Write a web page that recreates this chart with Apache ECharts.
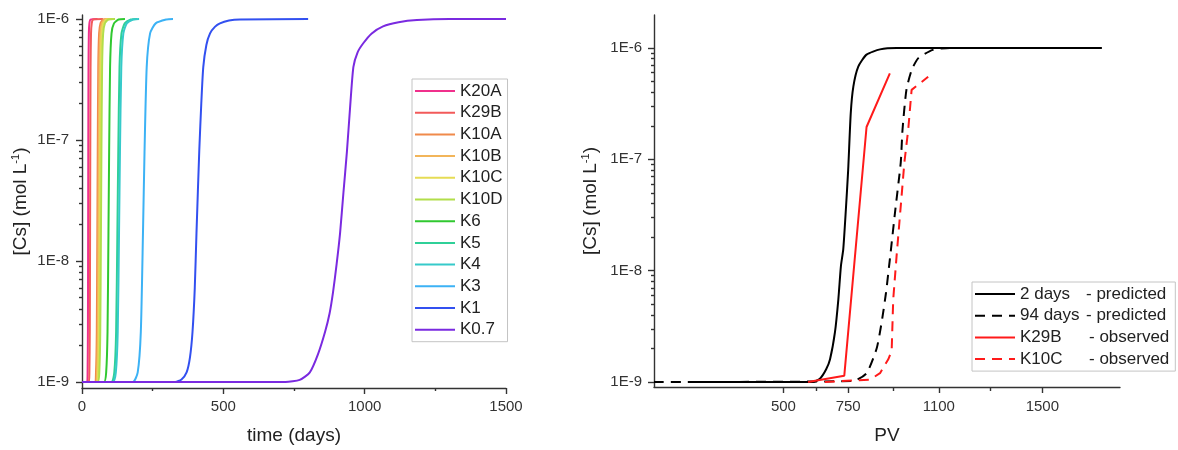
<!DOCTYPE html>
<html><head><meta charset="utf-8">
<script src="https://cdn.jsdelivr.net/npm/echarts@6/dist/echarts.min.js"></script>
<style>html,body{margin:0;padding:0;background:#fff}#c{width:1178px;height:450px}</style>
</head><body><div id="c"></div>
<script>
// ---------- data: left panel (time in days, [Cs] in mol/L) ----------
const leftNames = ['K20A','K29B','K10A','K10B','K10C','K10D','K6','K5','K4','K3','K1','K0.7'];
const K20A = [[0,1e-9],[18,1e-9],[19.8,1.2e-9],[20.9,2.6e-9],[21.7,1.7e-8],[22.2,8e-8],[23,4e-7],[24.2,7.6e-7],[26.2,9.2e-7],[29.9,9.9e-7],[55,1e-6]];
const K29B = [[0,1e-9],[23.8,1e-9],[26.1,1.2e-9],[27.6,2.6e-9],[28.6,1.7e-8],[29.3,8e-8],[30.3,4e-7],[31.9,7.6e-7],[34.5,9.2e-7],[39.4,9.9e-7],[74,1e-6]];
const K10A = [[0,1e-9],[45,1e-9],[49.5,1.2e-9],[52.3,2.6e-9],[54.2,1.7e-8],[55.6,8e-8],[57.5,4e-7],[60.5,7.6e-7],[65.5,9.2e-7],[74.8,9.9e-7],[100,1e-6]];
const K10B = [[0,1e-9],[48.4,1e-9],[53.1,1.2e-9],[56.1,2.6e-9],[58.1,1.7e-8],[59.6,8e-8],[61.7,4e-7],[64.9,7.6e-7],[70.2,9.2e-7],[80.2,9.9e-7],[108,1e-6]];
const K10C = [[0,1e-9],[51.7,1e-9],[56.7,1.2e-9],[59.9,2.6e-9],[62.1,1.7e-8],[63.6,8e-8],[65.8,4e-7],[69.3,7.6e-7],[75,9.2e-7],[85.7,9.9e-7],[112,1e-6]];
const K10D = [[0,1e-9],[55.8,1e-9],[61.2,1.2e-9],[64.6,2.6e-9],[67,1.7e-8],[68.7,8e-8],[71.1,4e-7],[74.8,7.6e-7],[80.9,9.2e-7],[92.5,9.9e-7],[117,1e-6]];
const K6 = [[0,1e-9],[77.9,1e-9],[85.5,1.2e-9],[90.3,2.6e-9],[93.6,1.7e-8],[96,8e-8],[99.3,4e-7],[104.5,7.6e-7],[113.1,9.2e-7],[129.2,9.9e-7],[152,1e-6]];
const K5 = [[0,1e-9],[104.1,1e-9],[114.3,1.2e-9],[120.7,2.6e-9],[125.1,1.7e-8],[128.3,8e-8],[132.7,4e-7],[139.7,7.6e-7],[151.1,9.2e-7],[172.7,9.9e-7],[195,1e-6]];
const K4 = [[0,1e-9],[109.1,1e-9],[119.7,1.2e-9],[126.4,2.6e-9],[131,1.7e-8],[134.3,8e-8],[139,4e-7],[146.3,7.6e-7],[158.3,9.2e-7],[180.9,9.9e-7],[202,1e-6]];
const K3 = [[0,1e-9],[179.6,1e-9],[197.1,1.2e-9],[208.1,2.6e-9],[215.7,1.7e-8],[221.2,8e-8],[228.9,4e-7],[240.9,7.6e-7],[260.6,9.2e-7],[297.8,9.9e-7],[322,1e-6]];
const K1 = [[0,1e-9],[330,1e-9],[352,1.05e-9],[370,1.2e-9],[382,1.6e-9],[391,2.6e-9],[399,6e-9],[405,1.7e-8],[415,8.3e-8],[422,2e-7],[429,4e-7],[440,6.1e-7],[453,7.6e-7],[470,8.6e-7],[488,9.2e-7],[520,9.7e-7],[559,9.9e-7],[800,1e-6]];
const K07 = [[0,1e-9],[720,1e-9],[770,1.04e-9],[806,1.2e-9],[835,1.7e-9],[860,2.6e-9],[876,3.7e-9],[888,5.5e-9],[901,9.5e-9],[913,1.7e-8],[925,3.7e-8],[937,7.9e-8],[948,1.8e-7],[960,4e-7],[975,5.3e-7],[995,6.3e-7],[1025,7.6e-7],[1065,8.7e-7],[1120,9.4e-7],[1185,9.8e-7],[1300,1e-6],[1500,1e-6]];
const leftSeriesData = [K20A,K29B,K10A,K10B,K10C,K10D,K6,K5,K4,K3,K1,K07];

// ---------- data: right panel (PV, [Cs] in mol/L) ----------
const rightNames = ['2 days','94 days','K29B','K10C'];
const rightSuffix = ['- predicted','- predicted','- observed','- observed'];
const pred2days = [[150,1e-9],[614,1e-9],[641,1.07e-9],[665,1.3e-9],[680,1.6e-9],[699,2.8e-9],[712,5.5e-9],[722,1.1e-8],[731,1.55e-8],[741,3.5e-8],[750,8e-8],[760,2.6e-7],[770,4.5e-7],[789,6.8e-7],[821,8.7e-7],[873,9.7e-7],[937,1e-6],[1730,1e-6]];
const pred94days = [[0,1e-9],[769,1.02e-9],[821,1.2e-9],[860,2e-9],[879,3.4e-9],[896,6.3e-9],[911,1.26e-8],[932,3.5e-8],[953,9.3e-8],[960,1.85e-7],[975,4.2e-7],[995,6.3e-7],[1021,8.1e-7],[1077,9.6e-7],[1143,1e-6],[1200,1e-6]];
const obsK29B = [[595,1e-9],[735,1.14e-9],[821,1.95e-7],[911,5.9e-7]];
const obsK10C = [[660,1e-9],[834,1.05e-9],[873,1.2e-9],[905,1.6e-9],[918,1.9e-9],[924,5.5e-9],[937,1.35e-8],[967,9.3e-8],[982,1.85e-7],[995,4.2e-7],[1059,5.5e-7]];
const rightSeriesData = [pred2days, pred94days, obsK29B, obsK10C];

// ---------- tick values ----------
const leftXTicks = [0,500,1000,1500];
const rightXTicks = [500,750,1100,1500];
const rightXMinor = [625,925,1300];
const yMajor = [1e-9,1e-8,1e-7,1e-6];
const yMinor = [2e-9,3e-9,4e-9,5e-9,6e-9,7e-9,8e-9,9e-9,2e-8,3e-8,4e-8,5e-8,6e-8,7e-8,8e-8,9e-8,2e-7,3e-7,4e-7,5e-7,6e-7,7e-7,8e-7,9e-7,2e-6];

// ---------- styles ----------
const leftColors = ['#f0308c','#f25a5a','#f08a4b','#f2b55a','#e6dc55','#b2de4a','#30c830','#2fd098','#36caca','#3cb2f5','#3250f0','#7a2ae0'];
const rightColors = ['#000000','#000000','#ff1a1a','#ff1a1a'];
const rightDashed = [false,true,false,true];
const FONT = 'Liberation Sans, Arial, sans-serif';
const axisColor = '#333';
const lineSt = {color: axisColor, width: 1.4};
const labelSt = {fontFamily: FONT, fontSize: 15, color: '#333'};
const nameSt = {fontFamily: FONT, fontSize: 19, color: '#222',
  rich: {sup: {fontFamily: FONT, fontSize: 11, color: '#222', verticalAlign: 'top', lineHeight: 22}}};
const yFmt = v => '1E' + Math.round(Math.log10(v));
const xFmt = v => String(v);
const yName = '[Cs] (mol L{sup|-1})';

const chart = echarts.init(document.getElementById('c'), null, {renderer: 'canvas'});

const rightFullNames = rightNames.map((n, i) => n + ' ' + rightSuffix[i]);

const series = [];
leftNames.forEach((n, i) => series.push({
  name: n, type: 'line', xAxisIndex: 0, yAxisIndex: 0, data: leftSeriesData[i],
  symbol: 'none', showSymbol: false, smooth: 0.2,
  lineStyle: {width: 2, color: leftColors[i]}, itemStyle: {color: leftColors[i]}
}));
rightFullNames.forEach((n, i) => series.push({
  name: n, type: 'line', xAxisIndex: 1, yAxisIndex: 2, data: rightSeriesData[i],
  symbol: 'none', showSymbol: false, smooth: i < 2 ? 0.2 : false,
  lineStyle: {width: 2, color: rightColors[i], type: rightDashed[i] ? [10, 7] : 'solid'},
  itemStyle: {color: rightColors[i]}
}));

const legendCommon = {
  orient: 'vertical', itemWidth: 40, itemHeight: 18, itemGap: 3.7,
  borderColor: '#c4c4c4', borderWidth: 1, selectedMode: false,
  itemStyle: {opacity: 0, borderWidth: 0}
};

const option = {
  animation: false,
  backgroundColor: '#fff',
  grid: [
    {left: 82, top: 15, width: 424, height: 374},
    {left: 654, top: 15, width: 466, height: 373}
  ],
  legend: [
    Object.assign({}, legendCommon, {
      data: leftNames, left: 412, top: 79, padding: [3, 5, 3, 2],
      textStyle: {fontFamily: FONT, fontSize: 17, color: '#222', lineHeight: 18}
    }),
    Object.assign({}, legendCommon, {
      data: rightFullNames, left: 972, top: 282, padding: [3, 6, 3, 2],
      formatter: name => {
        const i = rightFullNames.indexOf(name);
        return '{a|' + rightNames[i] + '}{' + (i < 2 ? 'b' : 'c') + '|' + rightSuffix[i] + '}';
      },
      textStyle: {fontFamily: FONT, fontSize: 17, color: '#222', lineHeight: 18,
        rich: {
          a: {fontFamily: FONT, fontSize: 17, color: '#222', width: 66, lineHeight: 18},
          b: {fontFamily: FONT, fontSize: 17, color: '#222', lineHeight: 18},
          c: {fontFamily: FONT, fontSize: 17, color: '#222', lineHeight: 18, padding: [0, 0, 0, 3]}
        }}
    })
  ],
  xAxis: [
    {gridIndex: 0, type: 'value', min: 0, max: 1500, interval: 500,
      axisLine: {show: true, onZero: false, lineStyle: lineSt},
      axisTick: {show: true, length: 6, lineStyle: lineSt, customValues: leftXTicks},
      minorTick: {show: true, splitNumber: 2, length: 3, lineStyle: lineSt},
      splitLine: {show: false}, minorSplitLine: {show: false},
      axisLabel: Object.assign({margin: 11, customValues: leftXTicks, formatter: xFmt}, labelSt),
      name: 'time (days)', nameLocation: 'middle', nameGap: 38, nameTextStyle: nameSt},
    {gridIndex: 1, type: 'value', min: 0, max: 1800, position: 'bottom',
      axisLine: {show: true, onZero: false, lineStyle: lineSt},
      axisTick: {show: true, length: 6, lineStyle: lineSt, customValues: rightXTicks},
      splitLine: {show: false},
      axisLabel: Object.assign({margin: 12, customValues: rightXTicks, formatter: xFmt}, labelSt),
      name: 'PV', nameLocation: 'middle', nameGap: 39, nameTextStyle: nameSt},
    {gridIndex: 1, type: 'value', min: 0, max: 1800, position: 'bottom',
      axisLine: {show: false, onZero: false},
      axisTick: {show: true, length: 4, lineStyle: lineSt, customValues: rightXMinor},
      splitLine: {show: false}, axisLabel: {show: false}}
  ],
  yAxis: [
    {gridIndex: 0, type: 'log', logBase: 10, min: 8.92e-10, max: 1.079e-6,
      axisLine: {show: true, onZero: false, lineStyle: lineSt},
      axisTick: {show: true, length: 6, lineStyle: lineSt, customValues: yMajor},
      splitLine: {show: false},
      axisLabel: Object.assign({margin: 13, customValues: yMajor, formatter: yFmt}, labelSt),
      name: yName, nameLocation: 'middle', nameGap: 50, nameTextStyle: nameSt},
    {gridIndex: 0, type: 'log', logBase: 10, min: 8.92e-10, max: 1.079e-6, position: 'left',
      axisLine: {show: false, onZero: false},
      axisTick: {show: true, length: 3, lineStyle: lineSt, customValues: yMinor},
      splitLine: {show: false}, axisLabel: {show: false}},
    {gridIndex: 1, type: 'log', logBase: 10, min: 9.02e-10, max: 1.975e-6,
      axisLine: {show: true, onZero: false, lineStyle: lineSt},
      axisTick: {show: true, length: 6, lineStyle: lineSt, customValues: yMajor},
      splitLine: {show: false},
      axisLabel: Object.assign({margin: 12, customValues: yMajor, formatter: yFmt}, labelSt),
      name: yName, nameLocation: 'middle', nameGap: 52, nameTextStyle: nameSt},
    {gridIndex: 1, type: 'log', logBase: 10, min: 9.02e-10, max: 1.975e-6, position: 'left',
      axisLine: {show: false, onZero: false},
      axisTick: {show: true, length: 3, lineStyle: lineSt, customValues: yMinor},
      splitLine: {show: false}, axisLabel: {show: false}}
  ],
  series: series
};
chart.setOption(option);
</script>
</body></html>
